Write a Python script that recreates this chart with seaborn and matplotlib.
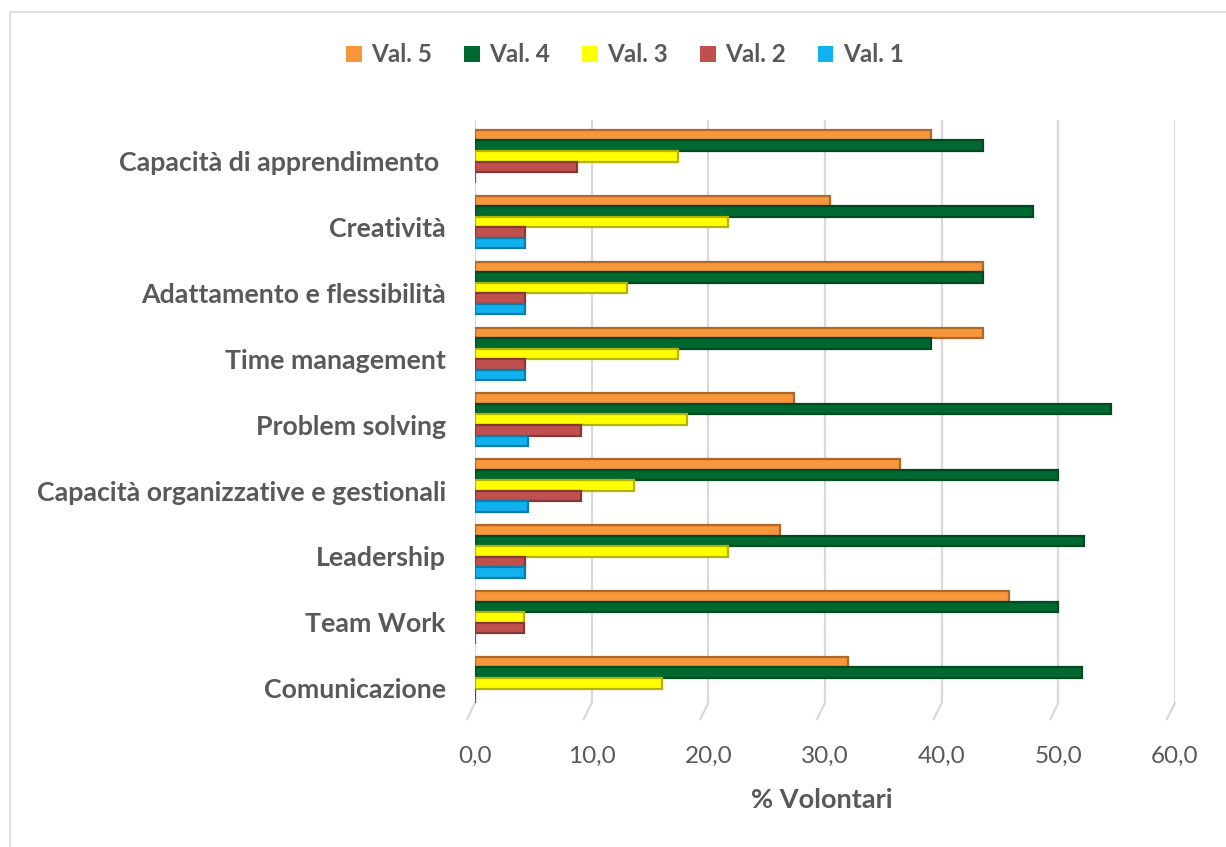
import matplotlib
matplotlib.use("Agg")
import matplotlib.pyplot as plt
import matplotlib.patches as mpatches
from matplotlib.transforms import ScaledTranslation
from matplotlib.colors import to_rgb
import pandas as pd
import seaborn as sns

# Competenze valutate (dall'alto verso il basso)
categories = [
    "Capacità di apprendimento ",
    "Creatività",
    "Adattamento e flessibilità",
    "Time management",
    "Problem solving",
    "Capacità organizzative e gestionali",
    "Leadership",
    "Team Work",
    "Comunicazione",
]

series_names = ["Val. 5", "Val. 4", "Val. 3", "Val. 2", "Val. 1"]

# % di volontari per punteggio
val5 = [39.1, 30.4, 43.5, 43.5, 27.3, 36.4, 26.1, 45.8, 32.0]
val4 = [43.5, 47.8, 43.5, 39.1, 54.5, 50.0, 52.2, 50.0, 52.0]
val3 = [17.4, 21.7, 13.0, 17.4, 18.2, 13.6, 21.7, 4.2, 16.0]
val2 = [8.7, 4.3, 4.3, 4.3, 9.1, 9.1, 4.3, 4.2, 0.0]
val1 = [0.0, 4.3, 4.3, 4.3, 4.5, 4.5, 4.3, 0.0, 0.0]

x_ticks = [0, 10, 20, 30, 40, 50, 60]
x_tick_labels = ["0,0", "10,0", "20,0", "30,0", "40,0", "50,0", "60,0"]

colors = {
    "Val. 5": "#F7963A",
    "Val. 4": "#00692F",
    "Val. 3": "#FFFF00",
    "Val. 2": "#C0504D",
    "Val. 1": "#0FB1EE",
}
text_color = "#595959"
grid_color = "#D9D9D9"

rows = []
for name, vals in zip(series_names, [val5, val4, val3, val2, val1]):
    for cat, v in zip(categories, vals):
        rows.append({"Competenza": cat, "Punteggio": name, "Valore": v})
df = pd.DataFrame(rows)

sns.set_style("white")
plt.rcParams["font.family"] = ["Lato", "DejaVu Sans"]

fig = plt.figure(figsize=(12.26, 8.47), dpi=100)
ax = fig.add_axes([475 / 1226, 1 - 703 / 847, 700 / 1226, (703 - 120) / 847])

sns.barplot(
    data=df, y="Competenza", x="Valore", hue="Punteggio",
    order=categories, hue_order=series_names, palette=colors,
    orient="h", width=0.8, saturation=1, legend=False, ax=ax, zorder=3,
)

# darker outline on each bar for a bit of depth
for container, name in zip(ax.containers, series_names):
    r, g, b = to_rgb(colors[name])
    edge = (r * 0.7, g * 0.7, b * 0.7)
    for patch in container:
        patch.set_edgecolor(edge)
        patch.set_linewidth(1.6)

y_bottom, y_top = 8.3, -0.55
ax.set_xlim(0, 60)
ax.set_ylim(y_bottom, y_top)
ax.set_xticks(x_ticks)
ax.set_xticklabels(x_tick_labels)
ax.grid(axis="x", color=grid_color, linewidth=1.6, zorder=0)
ax.grid(axis="y", visible=False)
for s in ax.spines.values():
    s.set_visible(False)

# floor edge: each gridline bends slightly toward the front
for t in x_ticks:
    ax.plot([t, t - 0.7], [y_bottom, y_bottom + 0.25], color=grid_color,
            linewidth=1.6, clip_on=False, zorder=0)

ax.tick_params(axis="x", length=0, pad=31, labelsize=17.5, labelcolor=text_color)
ax.tick_params(axis="y", length=0, pad=21, labelsize=19.3, labelcolor=text_color)
for lbl in ax.get_yticklabels():
    lbl.set_fontweight("bold")
    lbl.set_transform(lbl.get_transform() + ScaledTranslation(0, -5 / 100, fig.dpi_scale_trans))

ax.set_ylabel("")
ax.set_xlabel("% Volontari", fontsize=19.5, fontweight="bold", color=text_color)
ax.xaxis.set_label_coords(0.496, -0.145)

handles = [mpatches.Patch(facecolor=colors[n], edgecolor="none", label=n) for n in series_names]
leg = fig.legend(
    handles=handles, loc="center", bbox_to_anchor=(625 / 1226, 1 - 55 / 847),
    ncol=5, frameon=False, handlelength=0.65, handleheight=0.65,
    handletextpad=0.4, columnspacing=1.3,
    prop={"family": ["Lato", "DejaVu Sans"], "weight": "bold", "size": 17.5},
)
for t in leg.get_texts():
    t.set_color(text_color)

# outer chart frame
fig.patches.append(mpatches.Rectangle(
    (10 / 1226, -0.05), 1.2, 1 - 12 / 847 + 0.05, transform=fig.transFigure,
    fill=False, edgecolor=grid_color, linewidth=1.2,
))

fig.savefig("out.png", dpi=100)
